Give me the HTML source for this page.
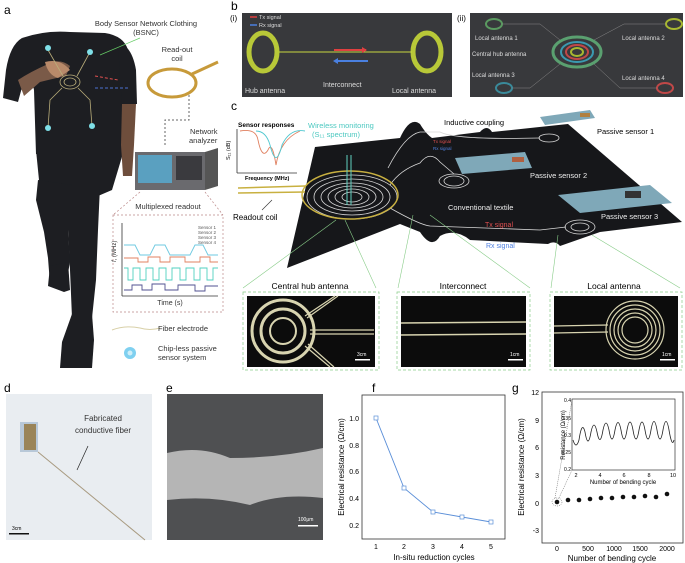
<!DOCTYPE html>
<html><head><meta charset="utf-8"><style>
html,body{margin:0;padding:0;background:#fff;}
svg{display:block;font-family:"Liberation Sans",Arial,sans-serif;}
</style></head><body>
<svg width="685" height="563" viewBox="0 0 685 563" xmlns="http://www.w3.org/2000/svg">
<rect width="685" height="563" fill="#fff"/>
<!-- ===== a ===== -->
<text x="4" y="14" font-size="12">a</text>
<g fill="#1d1e22">
 <!-- shirt torso -->
 <path d="M22,38 Q45,30 70,32 L105,33 Q124,36 128,50 L126,100 L124,150 Q100,158 70,156 L36,154 L34,90 Z"/>
 <!-- left arm (viewer left) -->
 <path d="M22,38 Q10,45 6,70 L3,98 L18,102 L24,80 L36,70 Z"/>
 <!-- right upper arm -->
 <path d="M118,42 Q132,46 136,70 L137,104 L122,104 L120,80 Z"/>
 <!-- hips -->
 <path d="M36,150 L124,150 L112,190 L98,196 L70,196 L40,190 Z"/>
 <!-- left leg thigh + lower -->
 <path d="M38,180 L72,185 L68,230 L70,262 L66,284 L50,284 L48,258 L44,232 L36,200 Z"/>
 <!-- right leg -->
 <path d="M68,186 L100,186 L98,230 L96,280 L92,318 L72,318 L70,270 L68,230 Z"/>
 <!-- shoes -->
 <path d="M50,266 L68,262 L70,290 L64,292 L48,286 Z"/>
 <path d="M72,314 L92,314 L94,340 L92,368 L60,368 L62,342 Z"/>
</g>
<path d="M122,104 L136,104 L134,145 L132,176 L123,176 L121,145 Z" fill="#6e4e3c"/>
<path d="M18,80 Q30,72 48,64 Q60,58 70,66 L66,76 Q56,78 40,82 L24,96 Z" fill="#7a5a48"/>
<path d="M45,62 Q60,58 70,70 L58,78 Q48,75 45,62Z" fill="#b98a6a"/>
<g fill="none" stroke="#b9ad7a" stroke-width="0.8">
 <ellipse cx="70" cy="82" rx="10" ry="7"/><ellipse cx="70" cy="82" rx="6" ry="4"/>
 <path d="M63,76 L48,50 M77,76 L90,52 M62,88 L50,100 L48,128 M78,88 L90,100 L92,126"/>
</g>
<g fill="#7fe0e8"><circle cx="48" cy="48" r="3"/><circle cx="90" cy="52" r="3"/><circle cx="48" cy="128" r="3"/><circle cx="92" cy="126" r="3"/></g>
<path d="M95,76 L118,80" stroke="#e05050" stroke-width="1" stroke-dasharray="3,2"/>
<path d="M95,88 L128,88" stroke="#4a70d0" stroke-width="1" stroke-dasharray="3,2"/>
<text x="146" y="26" font-size="7.5" text-anchor="middle" fill="#333">Body Sensor Network Clothing</text>
<text x="146" y="35" font-size="7.5" text-anchor="middle" fill="#333">(BSNC)</text>
<line x1="100" y1="55" x2="140" y2="38" stroke="#6c6" stroke-width="0.7"/>
<text x="177" y="52" font-size="7.5" text-anchor="middle" fill="#333">Read-out</text>
<text x="177" y="61" font-size="7.5" text-anchor="middle" fill="#333">coil</text>
<ellipse cx="172" cy="83" rx="24" ry="14" fill="none" stroke="#c79a3a" stroke-width="3"/>
<line x1="192" y1="74" x2="218" y2="62" stroke="#c79a3a" stroke-width="3"/>
<path d="M189,95 L189,120 L165,120 L165,146" fill="none" stroke="#666" stroke-width="1" stroke-dasharray="2,2"/>
<text x="190" y="134" font-size="7.5" fill="#333">Network</text>
<text x="189" y="143" font-size="7.5" fill="#333">analyzer</text>
<path d="M135,152 L205,152 L218,148 L218,186 L205,190 L135,190 Z" fill="#555"/>
<rect x="135" y="152" width="70" height="38" fill="#6a6a6e"/>
<rect x="138" y="155" width="34" height="28" fill="#5aa0c0"/>
<rect x="176" y="156" width="26" height="24" fill="#3a3a3e"/>
<text x="168" y="209" font-size="7.5" text-anchor="middle" fill="#333">Multiplexed readout</text>
<path d="M140,192 L113,215 M205,192 L223,215" stroke="#b88" stroke-width="0.7" stroke-dasharray="2,2"/>
<rect x="113" y="215" width="110" height="97" fill="none" stroke="#b88" stroke-width="0.7" stroke-dasharray="2,2"/>
<line x1="122" y1="223" x2="122" y2="296" stroke="#333" stroke-width="0.8"/>
<line x1="122" y1="296" x2="218" y2="296" stroke="#333" stroke-width="0.8"/>
<text x="116" y="262" font-size="6" transform="rotate(-90 116 262)" fill="#333"><tspan font-style="italic">f</tspan>, (MHz)</text>
<text x="170" y="305" font-size="7" text-anchor="middle" fill="#333">Time (s)</text>
<g font-size="4.5" fill="#555"><text x="198" y="229">Sensor 1</text><text x="198" y="234">Sensor 2</text><text x="198" y="239">Sensor 3</text><text x="198" y="244">Sensor 4</text></g>
<path d="M124,245 L135,245 L140,255 L150,255 L155,245 L165,245 L170,255 L190,255 L195,245 L203,245 L208,255 L218,255" fill="none" stroke="#6cc8e0" stroke-width="0.9"/>
<path d="M124,258 L138,258 L138,262 L148,262 L148,257 L160,257 L160,262 L170,262 L170,257 L185,257 L185,262 L200,262 L200,257 L210,257 L210,262 L218,262" fill="none" stroke="#e08060" stroke-width="0.9"/>
<path d="M124,268 L128,268 L128,280 L133,280 L133,268 L140,268 L140,280 L146,280 L146,268 L153,268 L153,280 L159,280 L159,268 L166,268 L166,280 L172,280 L172,268 L180,268 L180,280 L186,280 L186,268 L194,268 L194,280 L200,280 L200,268 L207,268 L207,280 L213,280 L213,268 L218,268" fill="none" stroke="#50d0c0" stroke-width="0.9"/>
<path d="M124,290 L132,290 L132,285 L142,285 L142,290 L152,290 L152,284 L165,284 L165,290 L178,290 L178,285 L195,285 L195,291 L205,291 L205,286 L218,286" fill="none" stroke="#505090" stroke-width="0.9"/>
<path d="M112,330 Q125,325 140,328 Q150,331 160,328" fill="none" stroke="#d8d0a8" stroke-width="1"/>
<text x="158" y="331" font-size="7.5" fill="#333">Fiber electrode</text>
<circle cx="130" cy="353" r="6" fill="#7fd0f0"/><circle cx="130" cy="353" r="2.5" fill="#cfeef8"/>
<text x="158" y="351" font-size="7.5" fill="#333">Chip-less passive</text>
<text x="158" y="360" font-size="7.5" fill="#333">sensor system</text>

<!-- ===== b ===== -->
<text x="231" y="10" font-size="12">b</text>
<text x="230" y="21" font-size="8">(i)</text>
<rect x="242" y="13" width="210" height="84" fill="#38393c"/>
<line x1="250" y1="17" x2="257" y2="17" stroke="#e04040" stroke-width="1.5"/><text x="259" y="19" font-size="5.5" fill="#ddd">Tx signal</text>
<line x1="250" y1="25" x2="257" y2="25" stroke="#4a80e0" stroke-width="1.5"/><text x="259" y="27" font-size="5.5" fill="#ddd">Rx signal</text>
<g fill="none" stroke="#b8c838" stroke-width="5"><ellipse cx="263" cy="52" rx="14" ry="19"/><ellipse cx="427" cy="52" rx="14" ry="19"/></g>
<line x1="279" y1="52" x2="412" y2="52" stroke="#c8d840" stroke-width="1"/>
<path d="M334,50 L366,50" stroke="#e04040" stroke-width="2"/><path d="M367,50 L362,47 L362,53Z" fill="#e04040"/>
<path d="M336,61 L368,61" stroke="#4a80e0" stroke-width="2"/><path d="M333,61 L338,58 L338,64Z" fill="#4a80e0"/>
<g font-size="7" fill="#ddd"><text x="245" y="93">Hub antenna</text><text x="323" y="87">Interconnect</text><text x="392" y="93">Local antenna</text></g>
<text x="457" y="21" font-size="8">(ii)</text>
<rect x="470" y="13" width="213" height="84" fill="#38393c"/>
<g fill="none" stroke-width="2"><ellipse cx="494" cy="24" rx="8" ry="5" stroke="#5a9a60"/><ellipse cx="674" cy="24" rx="8" ry="5" stroke="#a8b830"/><ellipse cx="504" cy="88" rx="8" ry="5" stroke="#3a8a9a"/><ellipse cx="665" cy="88" rx="8" ry="5" stroke="#c04848"/>
<ellipse cx="577" cy="52" rx="24" ry="15" stroke="#5aa070" stroke-width="3"/><ellipse cx="577" cy="52" rx="16" ry="10" stroke="#3a9ab0"/><ellipse cx="577" cy="52" rx="11" ry="7" stroke="#c04848"/><ellipse cx="577" cy="52" rx="6" ry="4" stroke="#a8b830"/></g>
<path d="M502,24 L540,24 L560,40 M594,40 L624,24 L666,24 M512,88 L530,88 L560,64 M594,64 L620,88 L657,88" fill="none" stroke="#888" stroke-width="0.5"/>
<g font-size="6" fill="#ddd"><text x="475" y="40">Local antenna 1</text><text x="622" y="40">Local antenna 2</text><text x="472" y="56">Central hub antenna</text><text x="472" y="77">Local antenna 3</text><text x="622" y="80">Local antenna 4</text></g>

<!-- ===== c ===== -->
<text x="231" y="110" font-size="12">c</text>
<path d="M315,147 L400,138 Q410,116 420,124 Q426,134 432,138 L480,132 Q487,124 492,132 L568,124 L682,222 L600,232 L560,246 Q555,240 548,244 L470,240 Q455,228 440,236 Q432,250 420,232 L400,224 L287,268 Z" fill="#16171a"/>
<g fill="none" stroke="#d8d8d8" stroke-width="0.8">
 <ellipse cx="352" cy="197" rx="45" ry="22"/><ellipse cx="352" cy="197" rx="38" ry="18"/><ellipse cx="352" cy="197" rx="31" ry="14"/><ellipse cx="352" cy="197" rx="24" ry="11"/><ellipse cx="352" cy="197" rx="17" ry="8"/><ellipse cx="352" cy="197" rx="10" ry="5"/>
 <ellipse cx="454" cy="181" rx="15" ry="7"/><ellipse cx="454" cy="181" rx="10" ry="5"/>
 <ellipse cx="549" cy="138" rx="10" ry="4"/><ellipse cx="580" cy="227" rx="15" ry="7"/><ellipse cx="580" cy="227" rx="9" ry="4"/>
 <path d="M390,185 Q400,170 420,163 Q430,150 440,162 L454,174 M388,168 Q405,135 420,132 L440,132 Q455,140 540,138 M390,208 Q420,225 430,226 L540,230 L566,227"/>
</g>
<ellipse cx="350" cy="195" rx="48" ry="24" fill="none" stroke="#c8b040" stroke-width="1.5"/>
<path d="M238,188 L305,186 M238,193 L305,192" stroke="#c8b040" stroke-width="1.5"/>
<path d="M347,205 L347,155 M351,205 L351,155" stroke="#60d0c0" stroke-width="1"/>
<polygon points="540,117 590,110 595,118 545,125" fill="#7fa8b8"/>
<polygon points="455,158 525,152 532,168 462,174" fill="#7fa8b8"/>
<polygon points="558,195 650,185 672,203 580,213" fill="#7fa8b8"/>
<rect x="512" y="157" width="12" height="5" fill="#b06040"/><rect x="625" y="191" width="16" height="7" fill="#333"/><rect x="580" y="113" width="10" height="4" fill="#b08040"/>
<text x="238" y="127" font-size="6.5" font-weight="bold">Sensor responses</text>
<line x1="237" y1="129" x2="237" y2="173" stroke="#333" stroke-width="0.8"/><line x1="237" y1="173" x2="297" y2="173" stroke="#333" stroke-width="0.8"/>
<path d="M240,131 Q256,128 258,140 Q262,160 268,150 Q272,140 276,165 Q280,140 300,131" fill="none" stroke="#e08060" stroke-width="0.9"/>
<path d="M256,131 Q266,131 270,145 Q276,170 282,145 Q290,128 305,131" fill="none" stroke="#50c8d0" stroke-width="0.9"/>
<text x="230" y="160" font-size="5.5" transform="rotate(-90 230 160)">S₁₁ (dB)</text>
<text x="245" y="180" font-size="5.5" font-weight="bold">Frequency (MHz)</text>
<text x="308" y="128" font-size="7.5" fill="#4cc8c0">Wireless monitoring</text>
<text x="312" y="137" font-size="7.5" fill="#4cc8c0">(S₁₁ spectrum)</text>
<text x="233" y="220" font-size="8">Readout coil</text>
<line x1="262" y1="210" x2="272" y2="200" stroke="#333" stroke-width="0.6"/>
<text x="444" y="125" font-size="7.5">Inductive coupling</text>
<text x="597" y="134" font-size="7.5">Passive sensor 1</text>
<text x="530" y="178" font-size="7.5" fill="#eee">Passive sensor 2</text>
<text x="448" y="210" font-size="7.5" fill="#eee">Conventional textile</text>
<text x="601" y="219" font-size="7.5" fill="#eee">Passive sensor 3</text>
<text x="485" y="227" font-size="7" fill="#e05050">Tx signal</text>
<text x="486" y="248" font-size="7" fill="#5080e0">Rx signal</text>
<text x="433" y="143" font-size="4.5" fill="#e05050">Tx signal</text><text x="433" y="150" font-size="4.5" fill="#5080e0">Rx signal</text>
<g fill="none" stroke="#8c8" stroke-width="0.6"><path d="M336,220 L243,288 M345,220 L376,288 M413,215 L398,288 M430,215 L530,288 M558,235 L551,288 M592,235 L680,288"/></g>
<g font-size="8.5" text-anchor="middle"><text x="310" y="289">Central hub antenna</text><text x="463" y="289">Interconnect</text><text x="614" y="289">Local antenna</text></g>
<g fill="none" stroke="#8c8" stroke-width="0.7" stroke-dasharray="3,2"><rect x="243" y="292" width="136" height="78"/><rect x="397" y="292" width="133" height="78"/><rect x="550" y="292" width="132" height="78"/></g>
<rect x="247" y="296" width="128" height="71" fill="#0c0c0c"/><rect x="401" y="296" width="125" height="71" fill="#0c0c0c"/><rect x="554" y="296" width="124" height="71" fill="#0c0c0c"/>
<g fill="none" stroke="#d8d4b0" stroke-width="1.2">
 <circle cx="283" cy="331" r="31" stroke-width="3"/><circle cx="283" cy="331" r="22" stroke-width="3"/><circle cx="283" cy="331" r="13" stroke-width="2"/>
 <path d="M310,330 L374,330 M310,334 L374,334 M305,316 L335,296 M307,318 L338,296 M305,346 L330,367 M308,344 L334,367"/>
 <path d="M401,323 L526,322 M401,335 L526,334" stroke-width="1.5"/>
 <circle cx="635" cy="330" r="29"/><circle cx="635" cy="330" r="25"/><circle cx="635" cy="330" r="21"/><circle cx="635" cy="330" r="17"/><circle cx="635" cy="330" r="13"/>
 <path d="M554,326 L608,325 M554,333 L608,332"/>
</g>
<g fill="#fff"><rect x="355" y="359" width="15" height="1.5"/><rect x="508" y="359" width="15" height="1.5"/><rect x="660" y="359" width="15" height="1.5"/></g>
<g font-size="5" fill="#fff"><text x="357" y="356">3cm</text><text x="510" y="356">1cm</text><text x="662" y="356">1cm</text></g>

<!-- ===== d ===== -->
<text x="4" y="392" font-size="12">d</text>
<rect x="6" y="394" width="146" height="146" fill="#e9edf1"/>
<rect x="20" y="422" width="18" height="30" fill="#b8c8d8"/><rect x="24" y="424" width="12" height="26" fill="#9a8458"/>
<line x1="38" y1="452" x2="145" y2="540" stroke="#a89a80" stroke-width="1"/>
<text x="103" y="421" font-size="8" text-anchor="middle" fill="#333">Fabricated</text>
<text x="103" y="433" font-size="8" text-anchor="middle" fill="#333">conductive fiber</text>
<line x1="88" y1="446" x2="77" y2="470" stroke="#222" stroke-width="0.7"/>
<rect x="9" y="533" width="20" height="1.5" fill="#111"/><text x="12" y="530" font-size="5">3cm</text>
<!-- ===== e ===== -->
<text x="166" y="392" font-size="12">e</text>
<rect x="167" y="394" width="156" height="146" fill="#4f5052"/>
<path d="M167,453 Q200,445 230,458 Q280,458 323,448 L323,498 Q280,493 250,505 Q210,495 167,500 Z" fill="#b5b5b5"/>
<rect x="298" y="525" width="20" height="1.5" fill="#fff"/><text x="298" y="521" font-size="5" fill="#fff">100μm</text>
<!-- ===== f ===== -->
<text x="372" y="392" font-size="12">f</text>
<rect x="362" y="395" width="143" height="144" fill="none" stroke="#333" stroke-width="0.8"/>
<text x="344" y="467" font-size="8" text-anchor="middle" transform="rotate(-90 344 467)">Electrical resistance (Ω/cm)</text>
<g font-size="7" text-anchor="end"><text x="359" y="421">1.0</text><text x="359" y="448">0.8</text><text x="359" y="474">0.6</text><text x="359" y="501">0.4</text><text x="359" y="528">0.2</text></g>
<g font-size="7" text-anchor="middle"><text x="376" y="549">1</text><text x="404" y="549">2</text><text x="433" y="549">3</text><text x="462" y="549">4</text><text x="491" y="549">5</text></g>
<text x="434" y="560" font-size="8" text-anchor="middle">In-situ reduction cycles</text>
<polyline points="376,418 404,488 433,512 462,517 491,522" fill="none" stroke="#5b8fd8" stroke-width="0.9"/>
<g fill="#fff" stroke="#5b8fd8" stroke-width="0.7"><rect x="374" y="416" width="4" height="4"/><rect x="402" y="486" width="4" height="4"/><rect x="431" y="510" width="4" height="4"/><rect x="460" y="515" width="4" height="4"/><rect x="489" y="520" width="4" height="4"/></g>
<!-- ===== g ===== -->
<text x="512" y="392" font-size="12">g</text>
<rect x="542" y="392" width="141" height="151" fill="none" stroke="#333" stroke-width="0.8"/>
<text x="524" y="467" font-size="8" text-anchor="middle" transform="rotate(-90 524 467)">Electrical resistance (Ω/cm)</text>
<g font-size="7" text-anchor="end"><text x="539" y="395">12</text><text x="539" y="423">9</text><text x="539" y="450">6</text><text x="539" y="478">3</text><text x="539" y="506">0</text><text x="539" y="533">-3</text></g>
<g font-size="7" text-anchor="middle"><text x="557" y="551">0</text><text x="588" y="551">500</text><text x="614" y="551">1000</text><text x="640" y="551">1500</text><text x="667" y="551">2000</text></g>
<text x="612" y="561" font-size="8" text-anchor="middle">Number of bending cycle</text>
<g fill="#111"><circle cx="557" cy="502" r="2.3"/><circle cx="568" cy="500" r="2.3"/><circle cx="579" cy="500" r="2.3"/><circle cx="590" cy="499" r="2.3"/><circle cx="601" cy="498" r="2.3"/><circle cx="612" cy="498" r="2.3"/><circle cx="623" cy="497" r="2.3"/><circle cx="634" cy="497" r="2.3"/><circle cx="645" cy="496" r="2.3"/><circle cx="656" cy="497" r="2.3"/><circle cx="667" cy="494" r="2.3"/></g>
<ellipse cx="557" cy="502" rx="5" ry="4" fill="none" stroke="#555" stroke-width="0.5" stroke-dasharray="1,1"/>
<path d="M555,498 L572,400 M559,498 L572,470" stroke="#555" stroke-width="0.5" stroke-dasharray="1,1"/>
<rect x="572" y="399" width="103" height="71" fill="#fff" stroke="#333" stroke-width="0.7"/>
<text x="565" y="435" font-size="6" text-anchor="middle" transform="rotate(-90 565 435)">Resistance (Ω/cm)</text>
<g font-size="5" text-anchor="end"><text x="571" y="402">0.4</text><text x="571" y="420">0.35</text><text x="571" y="437">0.3</text><text x="571" y="454">0.25</text><text x="571" y="471">0.2</text></g>
<g font-size="5.5" text-anchor="middle"><text x="576" y="477">2</text><text x="600" y="477">4</text><text x="624" y="477">6</text><text x="649" y="477">8</text><text x="673" y="477">10</text></g>
<text x="623" y="484" font-size="6" text-anchor="middle">Number of bending cycle</text>
<path d="M573,440 Q576,450 579,440 Q582,420 585,432 Q588,450 591,432 Q594,418 597,432 Q600,448 603,430 Q606,416 609,430 Q612,448 615,430 Q618,415 621,430 Q624,448 627,430 Q630,414 633,430 Q636,448 639,430 Q642,414 645,430 Q648,448 651,430 Q654,413 657,430 Q660,448 663,430 Q666,413 669,430 Q672,448 674,440" fill="none" stroke="#222" stroke-width="0.8"/>
</svg>
</body></html>
